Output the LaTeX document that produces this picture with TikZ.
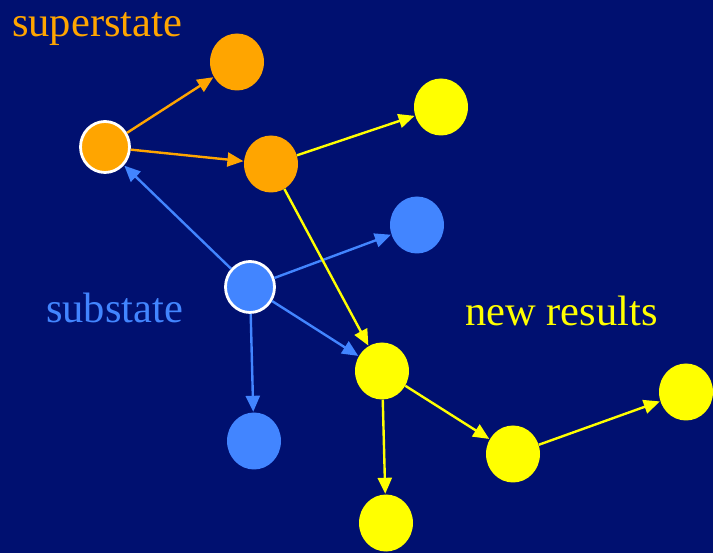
\documentclass[tikz,border=0pt]{standalone}
\usepackage{fontspec}
\setmainfont{Liberation Serif}
\usetikzlibrary{shapes.geometric,arrows.meta}

\definecolor{navy}{RGB}{0,16,112}
\definecolor{superorange}{RGB}{255,165,0}
\definecolor{subblue}{RGB}{66,133,255}
\definecolor{resultyellow}{RGB}{255,255,0}

\tikzset{
  state/.style={ellipse, inner sep=0pt, minimum width=54pt, minimum height=57pt},
  ostate/.style={state, fill=superorange},
  bstate/.style={state, fill=subblue},
  ystate/.style={state, fill=resultyellow},
  ringed/.style={draw=white, line width=2.8pt, minimum width=49pt, minimum height=51pt},
  link/.style={line width=2.4pt, -{Triangle[length=16pt,width=14pt]}, shorten >=0.5pt},
  label/.style={font=\fontsize{42.5}{46}\selectfont, inner sep=0pt, anchor=base west}
}

\begin{document}
\begin{tikzpicture}[x=1pt,y=-1pt]
  %%%%% background %%%%%
  \fill[navy] (0,0) rectangle (713,553);
  \useasboundingbox (0,0) rectangle (713,553);

  %%%%% states %%%%%
  \node[ostate, ringed] (super) at (105,147) {};
  \node[ostate] (oa) at (237,62) {};
  \node[ostate] (ob) at (271,164) {};

  \node[bstate, ringed] (sub) at (250,287) {};
  \node[bstate] (ba) at (417,225) {};
  \node[bstate] (bb) at (254,441) {};

  \node[ystate] (ya) at (441,107) {};
  \node[ystate] (yb) at (382,371) {};
  \node[ystate] (yc) at (386,523) {};
  \node[ystate] (yd) at (513,454) {};
  \node[ystate] (ye) at (686,392) {};

  %%%%% labels %%%%%
  \node[label, text=superorange] (tsuper) at (12,37) {superstate};
  \node[label, text=subblue] (tsub) at (46,323) {substate};
  \node[label, text=resultyellow] (tnew) at (465,326) {new results};

  %%%%% links %%%%%
  \draw[link, superorange] (super) -- (oa);
  \draw[link, superorange] (super) -- (ob);

  \draw[link, subblue] (sub) -- (super);
  \draw[link, subblue] (sub) -- (ba);
  \draw[link, subblue] (sub) -- (yb);
  \draw[link, subblue] (sub) -- (bb);

  \draw[link, resultyellow] (ob) -- (ya);
  \draw[link, resultyellow] (ob) -- (yb);
  \draw[link, resultyellow] (yb) -- (yc);
  \draw[link, resultyellow] (yb) -- (yd);
  \draw[link, resultyellow] (yd) -- (ye);
\end{tikzpicture}
\end{document}
